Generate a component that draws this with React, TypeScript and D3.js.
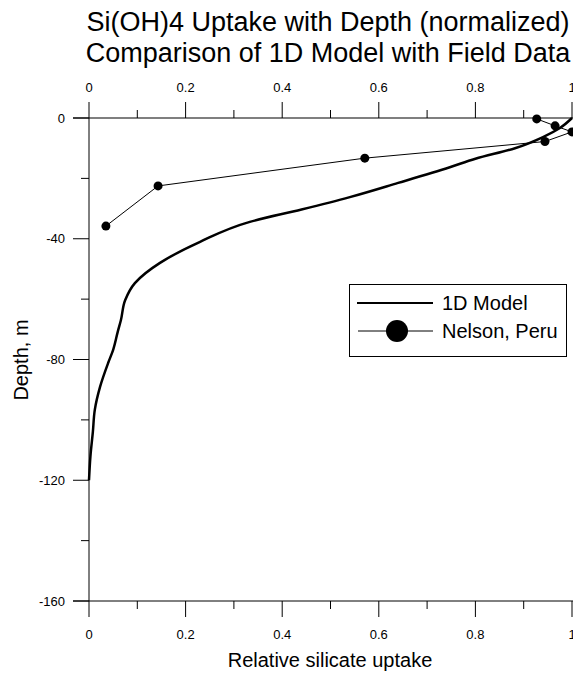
import React from "react";
import * as d3 from "d3";

// Model curve: relative uptake vs depth (m)
const modelUptake = [1.0, 0.975, 0.94, 0.882, 0.8, 0.747, 0.64, 0.54, 0.44, 0.333, 0.23, 0.147, 0.095, 0.075, 0.066, 0.06, 0.05, 0.04, 0.023, 0.012, 0.008, 0.003, 0.0];
const modelDepth = [0, -3.3, -6.3, -10, -13.5, -16.3, -21.5, -26.2, -30.3, -34.4, -41, -48, -54.7, -60.3, -67, -70.5, -76.8, -81, -89, -96.7, -104, -112, -120];

// Field data: Nelson, Peru
const fieldUptake = [0.927, 0.965, 1.0, 0.944, 0.571, 0.143, 0.035];
const fieldDepth = [-0.3, -2.6, -4.6, -7.8, -13.3, -22.5, -35.8];

const xMajorTicks = [0, 0.2, 0.4, 0.6, 0.8, 1];
const xMinorTicks = [0.1, 0.3, 0.5, 0.7, 0.9];
const xTickLabels = ["0", "0.2", "0.4", "0.6", "0.8", "1"];
const yMajorTicks = [0, -40, -80, -120, -160];
const yMinorTicks = [-20, -60, -100, -140];
const yTickLabels = ["0", "-40", "-80", "-120", "-160"];

const titleLines = ["Si(OH)4 Uptake with Depth (normalized)", "Comparison of 1D Model with Field Data"];
const seriesNames = ["1D Model", "Nelson, Peru"];

const FONT = "'Liberation Sans', Arial, sans-serif";

export default function App() {
  const x = d3.scaleLinear().domain([0, 1]).range([89, 572]);
  const y = d3.scaleLinear().domain([0, -160]).range([118, 601]);

  const modelPts = modelUptake.map((u, i) => [u, modelDepth[i]] as [number, number]);
  const fieldPts = fieldUptake.map((u, i) => [u, fieldDepth[i]] as [number, number]);

  const modelLine = d3
    .line<[number, number]>()
    .x((d) => x(d[0]))
    .y((d) => y(d[1]))
    .curve(d3.curveMonotoneY)(modelPts);
  const fieldLine = d3
    .line<[number, number]>()
    .x((d) => x(d[0]))
    .y((d) => y(d[1]))(fieldPts);

  const x0 = x(0);
  const yTop = y(0);
  const yBot = y(-160);

  return (
    <svg
      width={573}
      height={675}
      style={{ position: "absolute", left: 0, top: 0, background: "#fff" }}
      fontFamily={FONT}
    >
      <rect x={0} y={0} width={573} height={675} fill="#fff" />
      {/* Title */}
      <text x={328} y={31} fontSize={27} textAnchor="middle" fill="#000">
        {titleLines[0]}
      </text>
      <text x={328} y={62} fontSize={27} textAnchor="middle" fill="#000">
        {titleLines[1]}
      </text>

      {/* Top axis */}
      <line x1={73} x2={573} y1={yTop} y2={yTop} stroke="#000" strokeWidth={1.2} />
      {xMajorTicks.map((t, i) => (
        <g key={"tm" + i}>
          <line x1={x(t)} x2={x(t)} y1={yTop} y2={yTop - 16} stroke="#000" />
          <text x={x(t)} y={92} fontSize={13} textAnchor="middle" fill="#000">
            {xTickLabels[i]}
          </text>
        </g>
      ))}
      {xMinorTicks.map((t, i) => (
        <line key={"tn" + i} x1={x(t)} x2={x(t)} y1={yTop} y2={yTop - 8} stroke="#000" />
      ))}

      {/* Bottom axis */}
      <line x1={73} x2={573} y1={yBot} y2={yBot} stroke="#000" />
      {xMajorTicks.map((t, i) => (
        <g key={"bm" + i}>
          <line x1={x(t)} x2={x(t)} y1={yBot} y2={yBot + 16} stroke="#000" />
          <text x={x(t)} y={639} fontSize={13} textAnchor="middle" fill="#000">
            {xTickLabels[i]}
          </text>
        </g>
      ))}
      {xMinorTicks.map((t, i) => (
        <line key={"bn" + i} x1={x(t)} x2={x(t)} y1={yBot} y2={yBot + 8} stroke="#000" />
      ))}

      {/* Left axis */}
      <line x1={x0} x2={x0} y1={yTop} y2={yBot} stroke="#000" />
      {yMajorTicks.map((t, i) => (
        <g key={"lm" + i}>
          <line x1={x0 - 16} x2={x0} y1={y(t)} y2={y(t)} stroke="#000" />
          <text x={65} y={y(t) + 4.5} fontSize={13} textAnchor="end" fill="#000">
            {yTickLabels[i]}
          </text>
        </g>
      ))}
      {yMinorTicks.map((t, i) => (
        <line key={"ln" + i} x1={x0 - 8} x2={x0} y1={y(t)} y2={y(t)} stroke="#000" />
      ))}

      {/* Axis titles */}
      <text x={330} y={667} fontSize={20} textAnchor="middle" fill="#000">
        Relative silicate uptake
      </text>
      <text
        transform={`translate(28,360) rotate(-90)`}
        fontSize={20}
        textAnchor="middle"
        fill="#000"
      >
        Depth, m
      </text>

      {/* Data */}
      <path d={fieldLine || ""} fill="none" stroke="#000" strokeWidth={1} />
      {fieldPts.map((d, i) => (
        <circle key={"p" + i} cx={x(d[0])} cy={y(d[1])} r={4.5} fill="#000" />
      ))}
      <path d={modelLine || ""} fill="none" stroke="#000" strokeWidth={2.5} />

      {/* Legend */}
      <rect x={349.5} y={284.5} width={217} height={72} fill="#fff" stroke="#000" strokeWidth={1} />
      <line x1={357} x2={433} y1={303} y2={303} stroke="#000" strokeWidth={2} />
      <text x={442} y={310} fontSize={20} fill="#000">
        {seriesNames[0]}
      </text>
      <line x1={358} x2={433} y1={331} y2={331} stroke="#000" strokeWidth={1} />
      <circle cx={397} cy={331} r={11} fill="#000" />
      <text x={442} y={338} fontSize={20} fill="#000">
        {seriesNames[1]}
      </text>
    </svg>
  );
}
